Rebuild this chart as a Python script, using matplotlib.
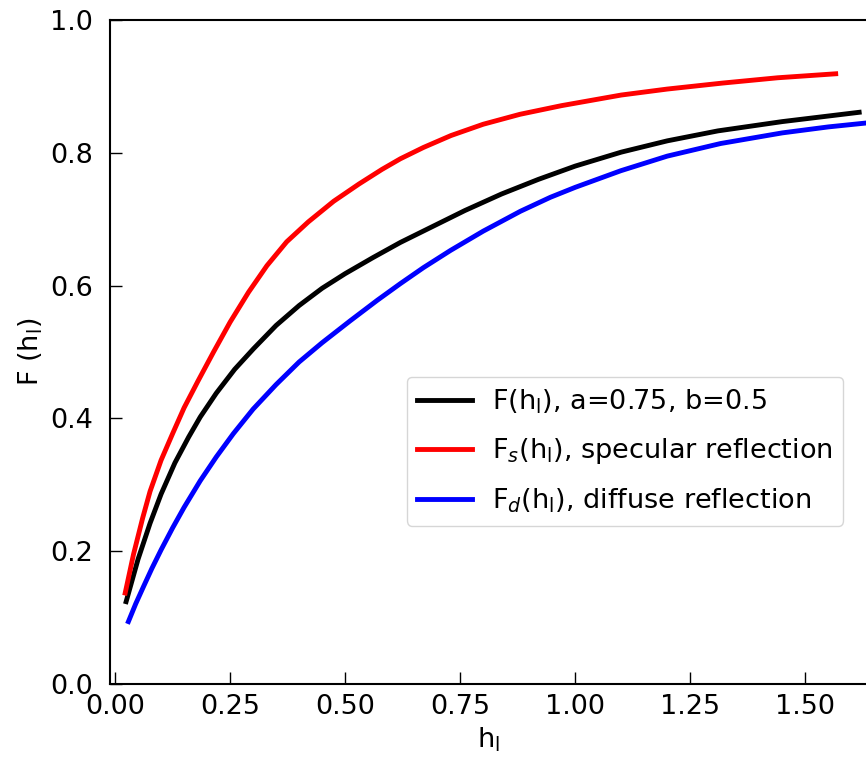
import matplotlib.pyplot as plt
import numpy as np

# values
x_f = [0.024, 0.050, 0.076, 0.100, 0.130, 0.160, 0.185, 0.220, 0.260, 0.301, 0.350, 0.400,
       0.450, 0.500, 0.560, 0.620, 0.690, 0.760, 0.840, 0.920, 1.000, 1.100, 1.200, 1.310,
       1.450, 1.617]
f_total = [0.124, 0.188, 0.242, 0.286, 0.333, 0.372, 0.402, 0.438, 0.474, 0.505, 0.540, 0.570,
           0.596, 0.618, 0.642, 0.665, 0.689, 0.713, 0.738, 0.760, 0.780, 0.801, 0.818, 0.833,
           0.847, 0.861]

x_s = [0.022, 0.040, 0.060, 0.076, 0.100, 0.125, 0.150, 0.180, 0.214, 0.250, 0.290, 0.330,
       0.373, 0.420, 0.475, 0.530, 0.580, 0.620, 0.670, 0.730, 0.800, 0.880, 0.970, 1.100,
       1.200, 1.320, 1.440, 1.566]
f_spec = [0.137, 0.195, 0.250, 0.290, 0.337, 0.377, 0.416, 0.456, 0.500, 0.545, 0.590, 0.630,
          0.666, 0.696, 0.727, 0.753, 0.775, 0.791, 0.808, 0.826, 0.843, 0.858, 0.871, 0.887,
          0.896, 0.905, 0.913, 0.919]

x_d = [0.029, 0.045, 0.062, 0.080, 0.100, 0.125, 0.150, 0.185, 0.220, 0.257, 0.300, 0.350,
       0.400, 0.450, 0.511, 0.570, 0.620, 0.670, 0.729, 0.800, 0.881, 0.946, 1.000, 1.099,
       1.200, 1.316, 1.450, 1.550, 1.634, 1.660]
f_diff = [0.094, 0.121, 0.147, 0.174, 0.202, 0.235, 0.266, 0.306, 0.342, 0.377, 0.414, 0.451,
          0.485, 0.514, 0.547, 0.578, 0.603, 0.627, 0.653, 0.682, 0.712, 0.733, 0.748, 0.773,
          0.795, 0.814, 0.830, 0.839, 0.845, 0.847]

labels = [r'F(h$_\mathregular{l}$), a=0.75, b=0.5',
          r'F$_s$(h$_\mathregular{l}$), specular reflection',
          r'F$_d$(h$_\mathregular{l}$), diffuse reflection']

fig = plt.figure(figsize=(8.66, 7.57), dpi=100)
ax = fig.add_axes([110 / 866, 73 / 757, 757 / 866, 664 / 757])

ax.plot(x_f, f_total, color='black', lw=3.5, label=labels[0])
ax.plot(x_s, f_spec, color='red', lw=3.5, label=labels[1])
ax.plot(x_d, f_diff, color='blue', lw=3.5, label=labels[2])

ax.set_xlim(-0.011, 1.634)
ax.set_ylim(0, 1)
ax.set_xticks([0, 0.25, 0.5, 0.75, 1.0, 1.25, 1.5])
ax.set_yticks([0, 0.2, 0.4, 0.6, 0.8, 1.0])
ax.xaxis.set_major_formatter(plt.FormatStrFormatter('%.2f'))
ax.yaxis.set_major_formatter(plt.FormatStrFormatter('%.1f'))
ax.tick_params(direction='in', length=8.5, width=1, labelsize=19.5)
ax.tick_params(axis='x', pad=7)
ax.tick_params(axis='y', pad=12)
for s in ax.spines.values():
    s.set_linewidth(1.5)
ax.spines['right'].set_visible(False)

ax.set_xlabel(r'h$_\mathregular{l}$', fontsize=19.5)
ax.set_ylabel(r'F (h$_\mathregular{l}$)', fontsize=19.5)

ax.legend(loc='upper right', bbox_to_anchor=(857 / 866, 1 - 363 / 757),
          bbox_transform=fig.transFigure, fontsize=19.5, handlelength=2.0,
          handletextpad=0.75, labelspacing=0.75)

plt.savefig('out.png', dpi=100)
